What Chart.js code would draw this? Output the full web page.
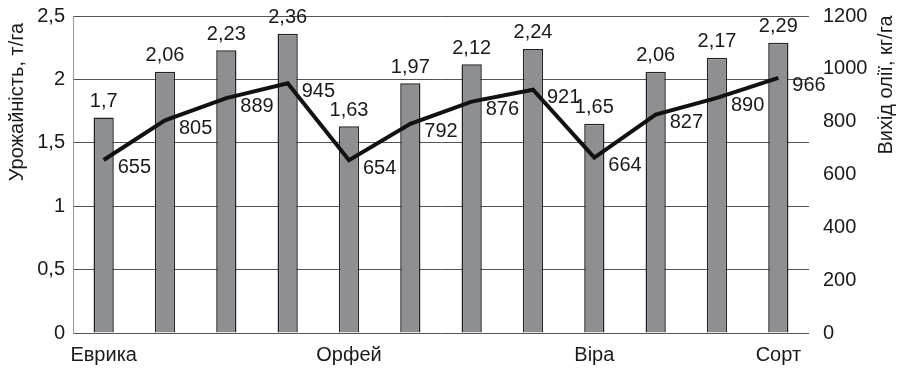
<!DOCTYPE html>
<html>
<head>
<meta charset="utf-8">
<script src="https://cdn.jsdelivr.net/npm/chart.js@4"></script>
<style>
  html, body { margin: 0; padding: 0; background: #fff; }
  #wrap { width: 897px; height: 370px; position: relative; }
</style>
</head>
<body>
<div id="wrap"><canvas id="chart"></canvas></div>
<script>
// Data
const categories = ['Еврика', '', '', '', 'Орфей', '', '', '', 'Віра', '', '', 'Сорт'];
const yieldValues = [1.7, 2.06, 2.23, 2.36, 1.63, 1.97, 2.12, 2.24, 1.65, 2.06, 2.17, 2.29];
const oilValues = [655, 805, 889, 945, 654, 792, 876, 921, 664, 827, 890, 966];
const leftTicks = [0, 0.5, 1, 1.5, 2, 2.5];
const rightTicks = [0, 200, 400, 600, 800, 1000, 1200];
const leftTitle = 'Урожайність, т/га';
const rightTitle = 'Вихід олії, кг/га';

const FONT = "'Liberation Sans', Arial, sans-serif";
const TEXT = '#1a1a1a';
const comma = v => String(v).replace('.', ',');

// value labels next to bars and line points
const valueLabels = {
    id: 'valueLabels',
    afterDatasetsDraw(chart) {
        const ctx = chart.ctx;
        ctx.save();
        ctx.font = '20px ' + FONT;
        ctx.fillStyle = TEXT;
        chart.data.datasets.forEach((ds, i) => {
            const meta = chart.getDatasetMeta(i);
            meta.data.forEach((el, j) => {
                if (ds.type === 'bar') {
                    ctx.textAlign = 'center';
                    ctx.textBaseline = 'bottom';
                    ctx.fillText(comma(ds.data[j]), el.x, el.y - 6);
                } else {
                    ctx.textAlign = 'left';
                    ctx.textBaseline = 'middle';
                    ctx.fillText(comma(ds.data[j]), el.x + 14, el.y + 8);
                }
            });
        });
        ctx.restore();
    }
};

// both axis titles read bottom-to-top and sit near the top
const axisTitles = {
    id: 'axisTitles',
    afterDraw(chart) {
        const ctx = chart.ctx;
        ctx.save();
        ctx.font = '20px ' + FONT;
        ctx.fillStyle = TEXT;
        ctx.textAlign = 'center';
        ctx.textBaseline = 'middle';
        [[leftTitle, 17, 102], [rightTitle, 886, 85]].forEach(([t, x, y]) => {
            ctx.save();
            ctx.translate(x, y);
            ctx.rotate(-Math.PI / 2);
            ctx.fillText(t, 0, 0);
            ctx.restore();
        });
        ctx.restore();
    }
};

// keep the plot area edges where the picture has them
const noTickPadding = scale => {
    scale.paddingTop = 0;
    scale.paddingBottom = 0;
};

new Chart(document.getElementById('chart'), {
    data: {
        labels: categories,
        datasets: [
            {
                type: 'line',
                label: 'Вихід олії',
                data: oilValues,
                yAxisID: 'y1',
                borderColor: '#111',
                borderWidth: 4,
                pointRadius: 0,
                tension: 0,
                order: 0
            },
            {
                type: 'bar',
                label: 'Урожайність',
                data: yieldValues,
                yAxisID: 'y',
                backgroundColor: '#8e8f92',
                borderColor: '#222',
                borderWidth: 1.5,
                barPercentage: 0.33,
                categoryPercentage: 1,
                order: 1
            }
        ]
    },
    options: {
        responsive: true,
        maintainAspectRatio: false,
        animation: false,
        layout: { padding: { top: 16, right: 0, bottom: 0, left: 0 } },
        plugins: {
            legend: { display: false },
            tooltip: { enabled: false }
        },
        scales: {
            x: {
                grid: { display: false },
                border: { display: false },
                ticks: {
                    autoSkip: false,
                    maxRotation: 0,
                    color: TEXT,
                    font: { family: FONT, size: 20 },
                    padding: 2
                },
                afterFit(scale) {
                    scale.height = 37;
                    scale.paddingLeft = 0;
                    scale.paddingRight = 0;
                }
            },
            y: {
                position: 'left',
                min: 0,
                max: 2.5,
                afterBuildTicks(scale) { scale.ticks = leftTicks.map(v => ({ value: v })); },
                grid: { color: '#555', lineWidth: 1, drawTicks: false },
                border: { display: true, color: '#999', width: 1 },
                ticks: {
                    color: TEXT,
                    font: { family: FONT, size: 20 },
                    padding: 8,
                    callback: v => comma(v)
                },
                afterFit(scale) {
                    scale.width = 73;
                    noTickPadding(scale);
                }
            },
            y1: {
                position: 'right',
                min: 0,
                max: 1200,
                afterBuildTicks(scale) { scale.ticks = rightTicks.map(v => ({ value: v })); },
                grid: { display: false, drawTicks: false },
                border: { display: false },
                ticks: {
                    color: TEXT,
                    font: { family: FONT, size: 20 },
                    padding: 14,
                    callback: v => String(v)
                },
                afterFit(scale) {
                    scale.width = 88;
                    noTickPadding(scale);
                }
            }
        }
    },
    plugins: [valueLabels, axisTitles]
});
</script>
</body>
</html>
